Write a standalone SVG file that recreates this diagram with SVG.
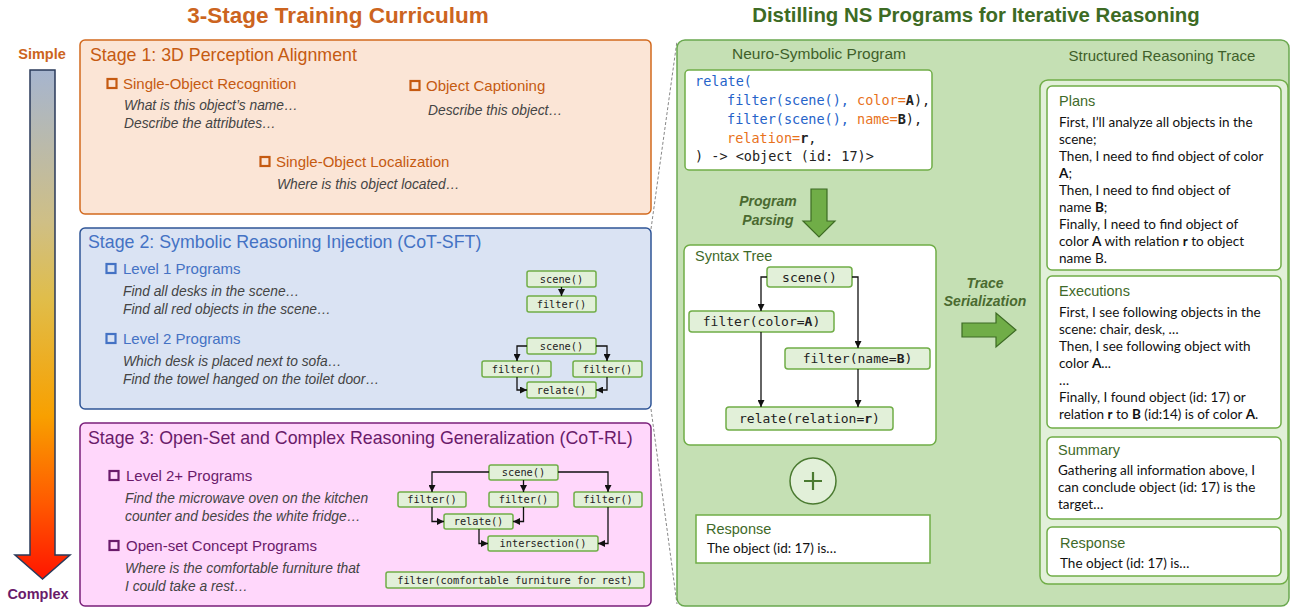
<svg xmlns="http://www.w3.org/2000/svg" width="1294" height="607" viewBox="0 0 1294 607">
<style>
.sans{font-family:"Liberation Sans",Arial,sans-serif}
.title{font-family:"Liberation Sans",Arial,sans-serif;font-weight:bold;text-anchor:middle}
.stitle{font-family:"Liberation Sans",Arial,sans-serif;font-size:17.8px}
.head{font-family:"Liberation Sans",Arial,sans-serif;font-size:15px}
.ex{font-family:"Liberation Sans",Arial,sans-serif;font-size:13.8px;font-style:italic;fill:#444}
.mono{font-family:"DejaVu Sans Mono","Liberation Mono",monospace}
.sm{font-family:"DejaVu Sans Mono","Liberation Mono",monospace;font-size:10.3px;text-anchor:middle;fill:#222}
.tm{font-family:"DejaVu Sans Mono","Liberation Mono",monospace;font-size:13px;text-anchor:middle;fill:#222}
.node{fill:#e2f0d9;stroke:#70ad47;stroke-width:1.5}
.conn{fill:none;stroke:#111;stroke-width:1.3}
.gh{font-family:"Liberation Sans",Arial,sans-serif;font-size:14.5px;fill:#3f6a2a}
.body{font-family:"Lato","Liberation Sans",Arial,sans-serif;font-size:13.5px;fill:#111}
.wbox{fill:#fff;stroke:#70ad47;stroke-width:1.5}
.bi{font-family:"Liberation Sans",Arial,sans-serif;font-size:14px;font-weight:bold;font-style:italic;fill:#4a6a30;text-anchor:middle}
.blue{fill:#2563c9}.org{fill:#e8721c}.blk{fill:#222}
</style>
<defs>
<linearGradient id="grad" gradientUnits="userSpaceOnUse" x1="0" y1="70" x2="0" y2="579">
<stop offset="0" stop-color="#a6b5cf"/>
<stop offset="0.3" stop-color="#cfbf85"/>
<stop offset="0.45" stop-color="#e0bd4a"/>
<stop offset="0.68" stop-color="#f8a000"/>
<stop offset="0.85" stop-color="#ff5a00"/>
<stop offset="1" stop-color="#ff1500"/>
</linearGradient>
<marker id="ah" viewBox="0 0 10 10" refX="10" refY="5" markerWidth="7" markerHeight="7" markerUnits="userSpaceOnUse" orient="auto">
<path d="M0,0 L10,5 L0,10 z" fill="#111"/>
</marker>
</defs>

<rect width="1294" height="607" fill="#fff"/>

<!-- Titles -->
<text class="title" x="338" y="23" font-size="22.5" fill="#cc6420">3-Stage Training Curriculum</text>
<text class="title" x="976" y="22" font-size="20.4" fill="#3d6b24">Distilling NS Programs for Iterative Reasoning</text>

<!-- Difficulty arrow -->
<g id="difficulty">
<text class="sans" x="42" y="59" font-size="14.5" font-weight="bold" fill="#cc6420" text-anchor="middle">Simple</text>
<path d="M30,70 H55 V555 H70 L42.5,579 L15,555 H30 Z" fill="url(#grad)" stroke="#2a3a5a" stroke-width="1.5"/>
<text class="sans" x="38" y="599" font-size="14.5" font-weight="bold" fill="#6a1b6a" text-anchor="middle">Complex</text>
</g>

<!-- dashed zoom lines -->
<g id="zoomlines" stroke="#888" stroke-width="1" stroke-dasharray="3,2" fill="none">
<line x1="651" y1="229" x2="677" y2="41"/>
<line x1="651" y1="409" x2="677" y2="604"/>
</g>

<!-- Stage 1 -->
<g id="stage1">
<rect x="80" y="40" width="571" height="174" rx="5" fill="#fbe5d6" stroke="#d2691e" stroke-width="1.5"/>
<text class="stitle" x="90" y="61" font-size="18.2" fill="#c55a11">Stage 1: 3D Perception Alignment</text>
<g fill="none" stroke="#c55a11" stroke-width="2.2">
<rect x="107.5" y="79" width="9" height="9"/>
<rect x="410.5" y="81" width="9" height="9"/>
<rect x="260.5" y="157" width="9" height="9"/>
</g>
<text class="head" x="123" y="89" fill="#c55a11">Single-Object Recognition</text>
<text class="ex" x="124" y="110">What is this object’s name…</text>
<text class="ex" x="124" y="128">Describe the attributes…</text>
<text class="head" x="426" y="91" fill="#c55a11">Object Captioning</text>
<text class="ex" x="428" y="115">Describe this object…</text>
<text class="head" x="276" y="167" fill="#c55a11">Single-Object Localization</text>
<text class="ex" x="277" y="189">Where is this object located…</text>
</g>

<!-- Stage 2 -->
<g id="stage2">
<rect x="80" y="228" width="571" height="181" rx="5" fill="#dae3f3" stroke="#2f5597" stroke-width="1.5"/>
<text class="stitle" x="88" y="248" fill="#4472c4">Stage 2: Symbolic Reasoning Injection (CoT-SFT)</text>
<g fill="none" stroke="#4472c4" stroke-width="2.2">
<rect x="106.5" y="264" width="9" height="9"/>
<rect x="106.5" y="334" width="9" height="9"/>
</g>
<text class="head" x="123" y="274" fill="#4472c4">Level 1 Programs</text>
<text class="ex" x="123" y="296">Find all desks in the scene…</text>
<text class="ex" x="123" y="314">Find all red objects in the scene…</text>
<text class="head" x="123" y="344" fill="#4472c4">Level 2 Programs</text>
<text class="ex" x="123" y="366">Which desk is placed next to sofa…</text>
<text class="ex" x="123" y="384">Find the towel hanged on the toilet door…</text>
<g id="s2-l1-scene"><rect class="node" x="527" y="271" width="69" height="16" rx="2"/><text class="sm" x="561.5" y="283">scene()</text></g>
<g id="s2-l1-filter"><rect class="node" x="527" y="296" width="69" height="16" rx="2"/><text class="sm" x="561.5" y="308">filter()</text></g>
<g id="s2-l2-scene"><rect class="node" x="527" y="338" width="69" height="16" rx="2"/><text class="sm" x="561.5" y="350">scene()</text></g>
<g id="s2-l2-filter1"><rect class="node" x="482" y="361" width="69" height="16" rx="2"/><text class="sm" x="516.5" y="373">filter()</text></g>
<g id="s2-l2-filter2"><rect class="node" x="573" y="361" width="69" height="16" rx="2"/><text class="sm" x="607.5" y="373">filter()</text></g>
<g id="s2-l2-relate"><rect class="node" x="527" y="382" width="69" height="16" rx="2"/><text class="sm" x="561.5" y="394">relate()</text></g>
</g>

<!-- Stage 3 -->
<g id="stage3">
<rect x="80" y="423" width="571" height="183" rx="5" fill="#ffd7fb" stroke="#7a1f7a" stroke-width="1.5"/>
<text class="stitle" x="88" y="444" fill="#6a1b6a">Stage 3: Open-Set and Complex Reasoning Generalization (CoT-RL)</text>
<g fill="none" stroke="#6a1b6a" stroke-width="2.2">
<rect x="109.5" y="471" width="9" height="9"/>
<rect x="109.5" y="541" width="9" height="9"/>
</g>
<text class="head" x="126" y="481" fill="#6a1b6a">Level 2+ Programs</text>
<text class="ex" x="125" y="503">Find the microwave oven on the kitchen</text>
<text class="ex" x="125" y="521">counter and besides the white fridge…</text>
<text class="head" x="126" y="551" fill="#6a1b6a">Open-set Concept Programs</text>
<text class="ex" x="125" y="573">Where is the comfortable furniture that</text>
<text class="ex" x="125" y="591">I could take a rest…</text>
<g id="s3-scene"><rect class="node" x="489" y="465" width="69" height="15" rx="2"/><text class="sm" x="523.5" y="476">scene()</text></g>
<g id="s3-filter1"><rect class="node" x="398" y="492" width="68" height="15" rx="2"/><text class="sm" x="432" y="503">filter()</text></g>
<g id="s3-filter2"><rect class="node" x="489" y="492" width="69" height="15" rx="2"/><text class="sm" x="523.5" y="503">filter()</text></g>
<g id="s3-filter3"><rect class="node" x="574" y="492" width="68" height="15" rx="2"/><text class="sm" x="608" y="503">filter()</text></g>
<g id="s3-relate"><rect class="node" x="444" y="514" width="69" height="15" rx="2"/><text class="sm" x="478.5" y="525">relate()</text></g>
<g id="s3-intersection"><rect class="node" x="488" y="536" width="110" height="15" rx="2"/><text class="sm" x="543" y="547">intersection()</text></g>
<g id="s3-openset"><rect class="node" x="386" y="572" width="258" height="16" rx="2"/><text class="sm" x="515" y="584">filter(comfortable furniture for rest)</text></g>
</g>

<!-- Right panel -->
<g id="ns-panel">
<rect x="677" y="40" width="612" height="566" rx="8" fill="#c5e0b4" stroke="#6aa84f" stroke-width="1.5"/>
<text class="sans" x="819" y="59" font-size="15.5" fill="#3f5f2a" text-anchor="middle">Neuro-Symbolic Program</text>
<text class="sans" x="1162" y="61" font-size="15" fill="#3f5f2a" text-anchor="middle">Structured Reasoning Trace</text>
</g>

<g id="code-box">
<rect class="wbox" x="685" y="70" width="247" height="100" rx="4"/>
<text class="mono" font-size="13.5" x="695" y="86"><tspan class="blue">relate(</tspan></text>
<text class="mono" font-size="13.5" x="727" y="105"><tspan class="blue">filter(scene(), </tspan><tspan class="org">color=</tspan><tspan class="blk" font-weight="bold">A</tspan><tspan class="blk">),</tspan></text>
<text class="mono" font-size="13.5" x="727" y="124"><tspan class="blue">filter(scene(), </tspan><tspan class="org">name=</tspan><tspan class="blk" font-weight="bold">B</tspan><tspan class="blk">),</tspan></text>
<text class="mono" font-size="13.5" x="727" y="143"><tspan class="org">relation=</tspan><tspan class="blk" font-weight="bold">r</tspan><tspan class="blk">,</tspan></text>
<text class="mono" font-size="13.5" x="695" y="161" fill="#222">) -&gt; &lt;object (id: 17)&gt;</text>
</g>

<g id="program-parsing">
<text class="bi" x="768" y="206">Program</text>
<text class="bi" x="768" y="225">Parsing</text>
<path d="M811,189 H827 V221 H835 L819,237 L803,221 H811 Z" fill="#70ad47" stroke="#3d6b24" stroke-width="1.2"/>
</g>

<g id="syntax-tree">
<rect class="wbox" x="684" y="245" width="252" height="200" rx="6"/>
<text class="gh" x="695" y="261">Syntax Tree</text>
</g>
<g id="t-scene"><rect class="node" x="767" y="267" width="85" height="20" rx="3"/><text class="tm" x="809.5" y="282">scene()</text></g>
<g id="t-filterA"><rect class="node" x="689" y="311" width="145" height="21" rx="3"/><text class="tm" x="761.5" y="326">filter(color=<tspan font-weight="bold">A</tspan>)</text></g>
<g id="t-filterB"><rect class="node" x="785" y="348" width="145" height="21" rx="3"/><text class="tm" x="857.5" y="363">filter(name=<tspan font-weight="bold">B</tspan>)</text></g>
<g id="t-relate"><rect class="node" x="726" y="407" width="167" height="23" rx="3"/><text class="tm" x="809.5" y="423">relate(relation=<tspan font-weight="bold">r</tspan>)</text></g>

<g id="trace-serialization">
<text class="bi" x="985" y="288">Trace</text>
<text class="bi" x="985" y="306">Serialization</text>
<path d="M962,323 H996 V313 L1016,330 L996,347 V337 H962 Z" fill="#70ad47" stroke="#3d6b24" stroke-width="1.2"/>
</g>

<g id="plus">
<circle cx="813" cy="481" r="23" fill="#e2f0d9" stroke="#4a7a30" stroke-width="1.5"/>
<path d="M813,472 V490 M804,481 H822" stroke="#4a7a30" stroke-width="2.2"/>
</g>

<g id="response-left">
<rect x="696" y="515" width="234" height="48" fill="#fff" stroke="#70ad47" stroke-width="1.5"/>
<text class="gh" x="706" y="534" font-size="15">Response</text>
<text class="body" x="707" y="553" fill="#111">The object (id: 17) is…</text>
</g>

<g id="trace-container">
<rect x="1040" y="80" width="248" height="504" rx="8" fill="#e2f0d9" stroke="#70ad47" stroke-width="1.5"/>
</g>

<g id="plans">
<rect class="wbox" x="1047" y="86" width="234" height="184" rx="5"/>
<text class="gh" x="1059" y="106">Plans</text>
<text class="body" x="1059" y="127">First, I’ll analyze all objects in the</text>
<text class="body" x="1059" y="144">scene;</text>
<text class="body" x="1059" y="161">Then, I need to find object of color</text>
<text class="body" x="1059" y="178"><tspan font-weight="bold">A</tspan>;</text>
<text class="body" x="1059" y="195">Then, I need to find object of</text>
<text class="body" x="1059" y="212">name <tspan font-weight="bold">B</tspan>;</text>
<text class="body" x="1059" y="229">Finally, I need to find object of</text>
<text class="body" x="1059" y="246">color <tspan font-weight="bold">A</tspan> with relation <tspan font-weight="bold">r</tspan> to object</text>
<text class="body" x="1059" y="263">name B.</text>
</g>

<g id="executions">
<rect class="wbox" x="1047" y="276" width="234" height="152" rx="5"/>
<text class="gh" x="1059" y="296">Executions</text>
<text class="body" x="1059" y="317">First, I see following objects in the</text>
<text class="body" x="1059" y="334">scene: chair, desk, …</text>
<text class="body" x="1059" y="351">Then, I see following object with</text>
<text class="body" x="1059" y="368">color <tspan font-weight="bold">A</tspan>...</text>
<text class="body" x="1059" y="385">…</text>
<text class="body" x="1059" y="402">Finally, I found object (id: 17) or</text>
<text class="body" x="1059" y="419">relation <tspan font-weight="bold">r</tspan> to <tspan font-weight="bold">B</tspan> (id:14) is of color <tspan font-weight="bold">A</tspan>.</text>
</g>

<g id="summary">
<rect class="wbox" x="1047" y="437" width="234" height="82" rx="5"/>
<text class="gh" x="1058" y="455">Summary</text>
<text class="body" x="1058" y="475">Gathering all information above, I</text>
<text class="body" x="1058" y="492">can conclude object (id: 17) is the</text>
<text class="body" x="1058" y="509">target…</text>
</g>

<g id="response-right">
<rect class="wbox" x="1047" y="527" width="234" height="49" rx="5"/>
<text class="gh" x="1060" y="548">Response</text>
<text class="body" x="1060" y="568">The object (id: 17) is…</text>
</g>

<!-- Connectors -->
<g id="connectors" class="conn">
<path class="conn" d="M561.5,287 V296" marker-end="url(#ah)"/>
<path class="conn" d="M527,346 H517 V361" marker-end="url(#ah)"/>
<path class="conn" d="M596,346 H607 V361" marker-end="url(#ah)"/>
<path class="conn" d="M517,377 V390 H527" marker-end="url(#ah)"/>
<path class="conn" d="M607,377 V390 H596" marker-end="url(#ah)"/>
<path class="conn" d="M489,472 H432 V492" marker-end="url(#ah)"/>
<path class="conn" d="M523.5,480 V492" marker-end="url(#ah)"/>
<path class="conn" d="M558,472 H608 V492" marker-end="url(#ah)"/>
<path class="conn" d="M432,507 V521.5 H444" marker-end="url(#ah)"/>
<path class="conn" d="M523.5,507 V521.5 H513" marker-end="url(#ah)"/>
<path class="conn" d="M479,529 V543.5 H488" marker-end="url(#ah)"/>
<path class="conn" d="M608,507 V543.5 H598" marker-end="url(#ah)"/>
<path class="conn" d="M767,277 H761 V311" marker-end="url(#ah)"/>
<path class="conn" d="M852,277 H858 V348" marker-end="url(#ah)"/>
<path class="conn" d="M761,332 V407" marker-end="url(#ah)"/>
<path class="conn" d="M858,369 V407" marker-end="url(#ah)"/>
</g>
</svg>
